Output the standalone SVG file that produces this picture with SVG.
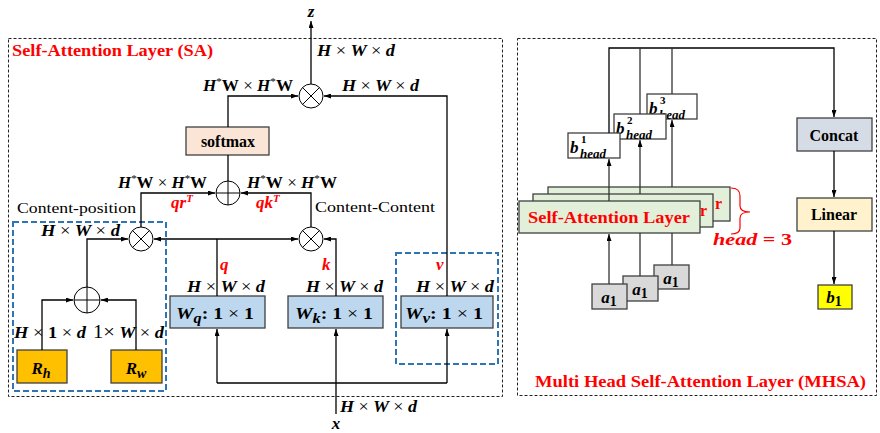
<svg xmlns="http://www.w3.org/2000/svg" width="880" height="433" viewBox="0 0 880 433">
<defs>
<marker id="ah" viewBox="0 0 7 5" refX="7" refY="2.5" markerWidth="7" markerHeight="5" markerUnits="userSpaceOnUse" orient="auto"><path d="M0,0 L7,2.5 L0,5 z" fill="#000"/></marker>
<clipPath id="clipMid"><rect x="700" y="194" width="13" height="33"/></clipPath>
<clipPath id="clipBack"><rect x="713" y="187" width="17" height="34"/></clipPath>
</defs>
<style>
.ln{fill:none;stroke:#000;stroke-width:1.3}
.g{stroke:#333}
.ar{marker-end:url(#ah)}
.op{fill:#fff;stroke:#000;stroke-width:1}
.frame{fill:none;stroke:#222;stroke-width:1;stroke-dasharray:3,2}
.blue{fill:none;stroke:#2E75B6;stroke-width:2;stroke-dasharray:6,3}
.box{stroke:#404040;stroke-width:1.3}
.m{font-family:"Liberation Serif","DejaVu Serif",serif;font-weight:bold;font-style:italic;font-size:17px;fill:#000}
.x{font-style:normal;font-weight:normal}
.up{font-style:normal}
.t{font-family:"Liberation Serif",serif;font-size:15px;fill:#000}
.b{font-family:"Liberation Serif",serif;font-weight:bold;font-size:16px;fill:#000}
.red{fill:#FF0000}
</style>

<!-- frames -->
<rect class="frame" x="8.5" y="38.5" width="494" height="358"/>
<rect class="frame" x="517.5" y="38.5" width="359" height="357"/>
<text class="b red" x="12" y="56" font-size="17" textLength="201" lengthAdjust="spacingAndGlyphs">Self-Attention Layer (SA)</text>
<text class="b red" x="535" y="387" font-size="17" textLength="331" lengthAdjust="spacingAndGlyphs">Multi Head Self-Attention Layer (MHSA)</text>

<!-- blue dashed groups -->
<rect class="blue" x="13" y="222" width="153" height="169"/>
<rect class="blue" x="396" y="253" width="102" height="111"/>

<!-- nodes: left panel -->
<g id="mul-out">
<circle class="op" cx="311" cy="96" r="12"/>
<path class="ln" style="stroke-width:1" d="M302.5,87.5 L319.5,104.5 M319.5,87.5 L302.5,104.5"/>
</g>
<g id="softmax">
<rect class="box" x="186" y="127" width="83" height="28" fill="#FBE5D6"/>
<text class="b" x="228" y="147" text-anchor="middle" font-size="17">softmax</text>
</g>
<g id="add-mid">
<circle class="op" cx="228" cy="193" r="12"/>
<path class="ln" style="stroke-width:1" d="M216,193 L240,193 M228,181 L228,205"/>
</g>
<g id="mul-qr">
<circle class="op" cx="141" cy="239" r="12"/>
<path class="ln" style="stroke-width:1" d="M132.5,230.5 L149.5,247.5 M149.5,230.5 L132.5,247.5"/>
</g>
<g id="mul-qk">
<circle class="op" cx="311" cy="239" r="12"/>
<path class="ln" style="stroke-width:1" d="M302.5,230.5 L319.5,247.5 M319.5,230.5 L302.5,247.5"/>
</g>
<g id="add-pos">
<circle class="op" cx="87" cy="300" r="13"/>
<path class="ln" style="stroke-width:1" d="M74,300 L100,300 M87,287 L87,313"/>
</g>
<g id="Wq">
<rect class="box" x="170" y="296" width="95" height="32" fill="#BDD7EE"/>
<text class="m" x="176" y="319" font-size="20" textLength="78" lengthAdjust="spacingAndGlyphs">W<tspan font-size="14" dy="4">q</tspan><tspan dy="-4" class="up">: 1 </tspan><tspan class="x">×</tspan><tspan class="up"> 1</tspan></text>
</g>
<g id="Wk">
<rect class="box" x="288" y="296" width="95" height="32" fill="#BDD7EE"/>
<text class="m" x="295" y="319" font-size="20" textLength="78" lengthAdjust="spacingAndGlyphs">W<tspan font-size="14" dy="4">k</tspan><tspan dy="-4" class="up">: 1 </tspan><tspan class="x">×</tspan><tspan class="up"> 1</tspan></text>
</g>
<g id="Wv">
<rect class="box" x="401" y="296" width="92" height="32" fill="#BDD7EE"/>
<text class="m" x="405" y="319" font-size="20" textLength="78" lengthAdjust="spacingAndGlyphs">W<tspan font-size="14" dy="4">v</tspan><tspan dy="-4" class="up">: 1 </tspan><tspan class="x">×</tspan><tspan class="up"> 1</tspan></text>
</g>
<g id="Rh">
<rect class="box" x="17" y="350" width="50" height="33" fill="#FFC000"/>
<text class="m" x="41" y="374" text-anchor="middle" font-size="21">R<tspan font-size="14" dy="4">h</tspan></text>
</g>
<g id="Rw">
<rect class="box" x="111" y="350" width="51" height="33" fill="#FFC000"/>
<text class="m" x="136" y="374" text-anchor="middle" font-size="21">R<tspan font-size="14" dy="4">w</tspan></text>
</g>

<!-- nodes: right panel -->
<g id="sa3">
<rect class="box" x="548" y="187" width="182" height="34" fill="#E2F0D9"/>
<text class="b red" x="715" y="209" font-size="17" clip-path="url(#clipBack)">r</text>
</g>
<g id="sa2">
<rect class="box" x="533" y="194" width="180" height="33" fill="#E2F0D9"/>
<text class="b red" x="700" y="216" font-size="17" clip-path="url(#clipMid)">r</text>
</g>
<g id="sa1">
<rect class="box" x="519" y="201" width="181" height="32" fill="#E2F0D9"/>
<text class="b red" x="609" y="223" font-size="17" text-anchor="middle" textLength="162" lengthAdjust="spacingAndGlyphs">Self-Attention Layer</text>
</g>
<g id="b3">
<rect class="box" x="647" y="94" width="50" height="25" fill="#fff"/>
<text class="m" x="649" y="114" font-size="21">b<tspan class="up" font-size="11" x="660" y="104">3</tspan><tspan font-size="13" x="659" y="119">head</tspan></text>
</g>
<g id="b2">
<rect class="box" x="614" y="114" width="52" height="25" fill="#fff"/>
<text class="m" x="616" y="134" font-size="21">b<tspan class="up" font-size="11" x="627" y="124">2</tspan><tspan font-size="13" x="626" y="139">head</tspan></text>
</g>
<g id="b1h">
<rect class="box" x="568" y="133" width="52" height="25" fill="#fff"/>
<text class="m" x="570" y="153" font-size="21">b<tspan class="up" font-size="11" x="581" y="143">1</tspan><tspan font-size="13" x="580" y="158">head</tspan></text>
</g>
<g id="a1c">
<rect class="box" x="654" y="265" width="35" height="24" fill="#D9D9D9"/>
<text class="m" x="671" y="284" text-anchor="middle" font-size="20">a<tspan class="up" font-size="14" dy="3">1</tspan></text>
</g>
<g id="a1b">
<rect class="box" x="623" y="276" width="35" height="25" fill="#D9D9D9"/>
<text class="m" x="640" y="295" text-anchor="middle" font-size="20">a<tspan class="up" font-size="14" dy="3">1</tspan></text>
</g>
<g id="a1a">
<rect class="box" x="592" y="284" width="35" height="25" fill="#D9D9D9"/>
<text class="m" x="609" y="303" text-anchor="middle" font-size="20">a<tspan class="up" font-size="14" dy="3">1</tspan></text>
</g>
<g id="concat">
<rect class="box" x="797" y="118" width="75" height="33" fill="#D6DCE5"/>
<text class="b" x="834" y="141" text-anchor="middle" font-size="17">Concat</text>
</g>
<g id="linear">
<rect class="box" x="797" y="198" width="75" height="33" fill="#FFF2CC"/>
<text class="b" x="834" y="220" text-anchor="middle" font-size="17">Linear</text>
</g>
<g id="b1out">
<rect class="box" x="818" y="285" width="34" height="24" fill="#FFFF00"/>
<text class="m" x="834" y="303" text-anchor="middle" font-size="20">b<tspan class="up" font-size="14" dy="3">1</tspan></text>
</g>

<!-- connectors -->
<g id="connectors">
<path class="ln ar" d="M311,84 L311,21"/>
<path class="ln ar" d="M228,127 L228,96 L298,96"/>
<path class="ln ar" d="M447,296 L447,96 L324,96"/>
<path class="ln" d="M228,155 L228,181"/>
<path class="ln ar" d="M141,227 L141,193 L215,193"/>
<path class="ln ar" d="M311,227 L311,193 L241,193"/>
<path class="ln" d="M217,296 L217,239"/>
<path class="ln ar" d="M217,239 L154,239"/>
<path class="ln ar" d="M217,239 L298,239"/>
<path class="ln ar" d="M336,296 L336,239 L324,239"/>
<path class="ln ar" d="M87,287 L87,239 L128,239"/>
<path class="ln ar" d="M42,350 L42,300 L73,300"/>
<path class="ln ar" d="M136,350 L136,300 L101,300"/>
<path class="ln ar" d="M336,414 L336,329"/>
<path class="ln" d="M217,383 L447,383"/>
<path class="ln ar" d="M217,383 L217,329"/>
<path class="ln ar" d="M447,383 L447,329"/>

<path class="ln g ar" d="M609,201 L609,159"/>
<path class="ln g ar" d="M640,194 L640,140"/>
<path class="ln g ar" d="M672,187 L672,120"/>
<path class="ln g ar" d="M609,284 L609,234"/>
<path class="ln g" d="M640,276 L640,233"/>
<path class="ln g" d="M672,265 L672,233"/>
<path class="ln ar" d="M609,133 L609,48 L834,48 L834,117"/>
<path class="ln g" d="M640,114 L640,48"/>
<path class="ln g" d="M672,94 L672,48"/>
<path class="ln ar" d="M834,151 L834,197"/>
<path class="ln ar" d="M834,231 L834,284"/>
<path d="M731,188 Q740,188 740,196 L740,206 Q740,212 750,212 Q740,212 740,218 L740,228 Q740,234 731,234" fill="none" stroke="#FF0000" stroke-width="1.2"/>
</g>

<!-- labels -->
<text class="m" x="311" y="17" text-anchor="middle" font-size="19">z</text>
<text class="m" x="336" y="429" text-anchor="middle" font-size="19">x</text>
<text class="m" x="317" y="56" textLength="78" lengthAdjust="spacingAndGlyphs">H <tspan class="x">×</tspan> W <tspan class="x">×</tspan> d</text>
<text class="m" x="342" y="91" textLength="77" lengthAdjust="spacingAndGlyphs">H <tspan class="x">×</tspan> W <tspan class="x">×</tspan> d</text>
<text class="m" x="203" y="91" textLength="90" lengthAdjust="spacingAndGlyphs">H<tspan class="x" font-size="11" dy="-6">*</tspan><tspan class="up" dy="6">W</tspan> <tspan class="x">×</tspan> H<tspan class="x" font-size="11" dy="-6">*</tspan><tspan class="up" dy="6">W</tspan></text>
<text class="m" x="118" y="188" textLength="89" lengthAdjust="spacingAndGlyphs">H<tspan class="x" font-size="11" dy="-6">*</tspan><tspan class="up" dy="6">W</tspan> <tspan class="x">×</tspan> H<tspan class="x" font-size="11" dy="-6">*</tspan><tspan class="up" dy="6">W</tspan></text>
<text class="m" x="247" y="188" textLength="90" lengthAdjust="spacingAndGlyphs">H<tspan class="x" font-size="11" dy="-6">*</tspan><tspan class="up" dy="6">W</tspan> <tspan class="x">×</tspan> H<tspan class="x" font-size="11" dy="-6">*</tspan><tspan class="up" dy="6">W</tspan></text>
<text class="m red" x="171" y="208" font-size="18">qr<tspan font-size="11" dy="-6">T</tspan></text>
<text class="m red" x="256" y="208" font-size="18">qk<tspan font-size="11" dy="-6">T</tspan></text>
<text class="t" x="17" y="213" font-size="16" textLength="119" lengthAdjust="spacingAndGlyphs">Content-position</text>
<text class="t" x="315" y="212" font-size="16" textLength="120" lengthAdjust="spacingAndGlyphs">Content-Content</text>
<text class="m" x="41" y="236" textLength="79" lengthAdjust="spacingAndGlyphs">H <tspan class="x">×</tspan> W <tspan class="x">×</tspan> d</text>
<text class="m red" x="220" y="270" font-size="19">q</text>
<text class="m red" x="322" y="270" font-size="19">k</text>
<text class="m red" x="436" y="270" font-size="19">v</text>
<text class="m" x="187" y="292" textLength="78" lengthAdjust="spacingAndGlyphs">H <tspan class="x">×</tspan> W <tspan class="x">×</tspan> d</text>
<text class="m" x="306" y="292" textLength="77" lengthAdjust="spacingAndGlyphs">H <tspan class="x">×</tspan> W <tspan class="x">×</tspan> d</text>
<text class="m" x="416" y="292" textLength="78" lengthAdjust="spacingAndGlyphs">H <tspan class="x">×</tspan> W <tspan class="x">×</tspan> d</text>
<text class="m" x="14" y="338" textLength="72" lengthAdjust="spacingAndGlyphs">H <tspan class="x">×</tspan> <tspan class="up">1</tspan> <tspan class="x">×</tspan> d</text>
<text class="m" x="93" y="338" textLength="71" lengthAdjust="spacingAndGlyphs"><tspan class="x" font-size="19">1×</tspan> W <tspan class="x">×</tspan> d</text>
<text class="m" x="340" y="412" textLength="77" lengthAdjust="spacingAndGlyphs">H <tspan class="x">×</tspan> W <tspan class="x">×</tspan> d</text>
<text class="m red" x="713" y="245" font-size="20" textLength="79" lengthAdjust="spacingAndGlyphs">head <tspan class="up">= 3</tspan></text>
</svg>
